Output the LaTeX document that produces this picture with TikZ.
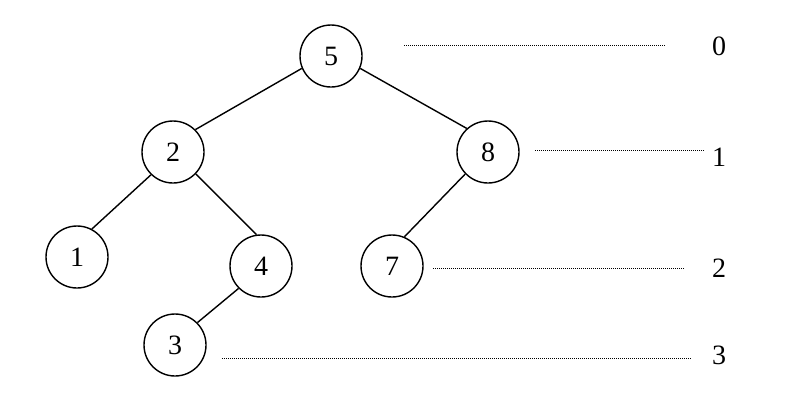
\documentclass[tikz,border=0pt]{standalone}
\usepackage{fontspec}
\setmainfont{Liberation Serif}
\begin{document}
\begin{tikzpicture}[x=1pt,y=-1pt,
  vtx/.style={draw,circle,line width=1.4pt,minimum size=62pt,inner sep=0pt,font=\fontsize{28}{30}\selectfont},
  lvl/.style={font=\fontsize{28}{30}\selectfont,inner sep=0pt},
  edge/.style={line width=1.4pt},
  guide/.style={line width=0.9pt,dash pattern=on 1pt off 1pt}]
\useasboundingbox (0,0) rectangle (795,405);
\node[vtx] (n5) at (331,56) {5};
\node[vtx] (n2) at (173,152) {2};
\node[vtx] (n8) at (488,152) {8};
\node[vtx] (n1) at (77,257) {1};
\node[vtx] (n4) at (261,266) {4};
\node[vtx] (n7) at (392,266) {7};
\node[vtx] (n3) at (175,345) {3};
\draw[edge] (n5.203) -- (n2.45);
\draw[edge] (n5.337) -- (n8.132);
\draw[edge] (n2.226) -- (n1.62);
\draw[edge] (n2.316) -- (n4.98);
\draw[edge] (n8.224) -- (n7.67);
\draw[edge] (n4.225) -- (n3.45);
\node[lvl] (l0) at (719,46) {0};
\node[lvl] (l1) at (719,157) {1};
\node[lvl] (l2) at (719,268) {2};
\node[lvl] (l3) at (719,355) {3};
\coordinate (a0) at (404,45); \coordinate (b0) at (665,45);
\coordinate (a1) at (535,150); \coordinate (b1) at (704,150);
\coordinate (a2) at (433,268); \coordinate (b2) at (685,268);
\coordinate (a3) at (222,358); \coordinate (b3) at (692,358);
\draw[guide] (a0) -- (b0);
\draw[guide] (a1) -- (b1);
\draw[guide] (a2) -- (b2);
\draw[guide] (a3) -- (b3);
\end{tikzpicture}
\end{document}
